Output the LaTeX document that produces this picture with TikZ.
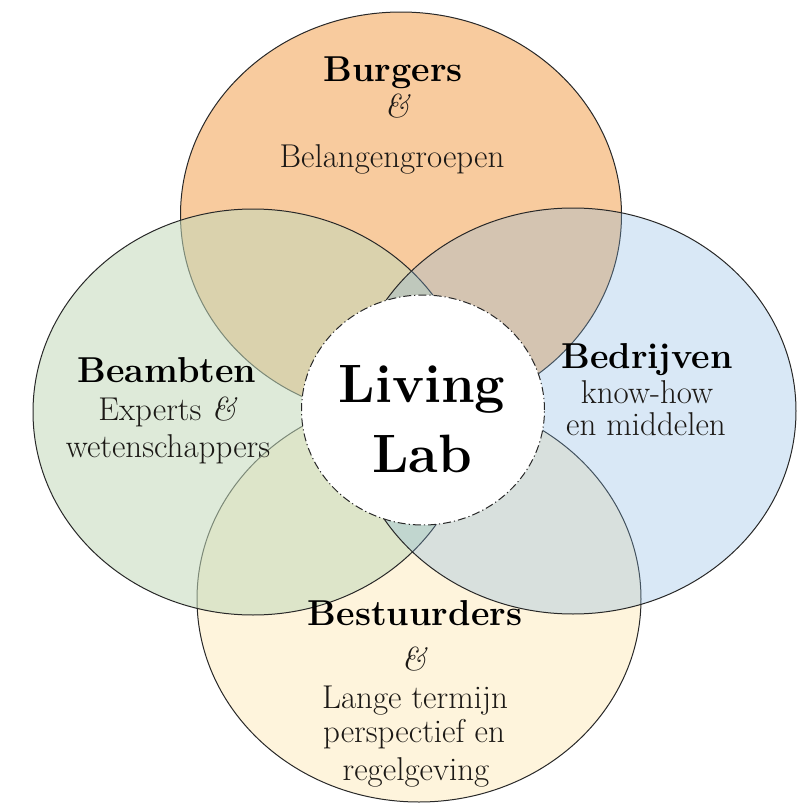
\documentclass[tikz,border=0pt]{standalone}
\usepackage{tikz}
\usetikzlibrary{shapes.geometric}

\definecolor{orangefill}{RGB}{248,203,158}
\definecolor{creamfill}{RGB}{254,244,220}
\definecolor{greenfill}{RGB}{194,217,186}
\definecolor{bluefill}{RGB}{130,180,224}
\definecolor{rimgray}{RGB}{40,40,40}
\definecolor{inkgray}{RGB}{28,25,22}

\begin{document}
\begin{tikzpicture}[x=1pt, y=-1pt,
  blob/.style={draw=rimgray, line width=1pt, shape=ellipse, inner sep=0pt,
    minimum height=406pt},
  title/.style={anchor=base, text=black, font=\bfseries\fontsize{36}{40}\selectfont},
  body/.style={anchor=base, text=inkgray, font=\fontsize{33}{38}\selectfont},
  amp/.style={anchor=base, text=inkgray, font=\itshape\fontsize{33}{38}\selectfont}]
\useasboundingbox (0,0) rectangle (804,803);

% the four stakeholder circles
\node (burgers) [blob, minimum width=441pt, fill=orangefill] at (401,215) {};
\node (bestuur) [blob, minimum width=444pt, fill=creamfill] at (419,599) {};
\node (beambt) [blob, minimum width=440pt, fill=greenfill, fill opacity=0.55] at (253,412) {};
\node (bedrijf) [blob, minimum width=446pt, fill=bluefill, fill opacity=0.3] at (573,411) {};

% the living lab in the middle
\node (lab) [shape=ellipse, draw=rimgray, line width=1pt, fill=white,
  dash pattern=on 8pt off 3pt on 1.2pt off 3pt,
  minimum width=243pt, minimum height=230pt] at (423,410) {};
\node (living) [anchor=base, font=\bfseries\fontsize{54}{64}\selectfont] at (422,402) {Living};
\node (labtxt) [anchor=base, font=\bfseries\fontsize{54}{64}\selectfont] at (422,472) {Lab};

% top
\node (burg1) [title] at (393,81) {Burgers};
\node (burg2) [amp] at (397,117) {\&};
\node (burg3) [body] at (392,167) {Belangengroepen};

% left
\node (beam1) [title] at (167,382) {Beambten};
\node (beam2) [body] at (168,420) {Experts \textit{\&}};
\node (beam3) [body] at (168,457) {wetenschappers};

% right
\node (bedr1) [title] at (647,368) {Bedrijven};
\node (bedr2) [body] at (647,403) {know-how};
\node (bedr3) [body] at (646,435) {en middelen};

% bottom
\node (best1) [title] at (415,625) {Bestuurders};
\node (best2) [amp] at (414,670) {\&};
\node (best3) [body] at (415,708) {Lange termijn};
\node (best4) [body] at (414,742) {perspectief en};
\node (best5) [body] at (416,780) {regelgeving};
\end{tikzpicture}
\end{document}
